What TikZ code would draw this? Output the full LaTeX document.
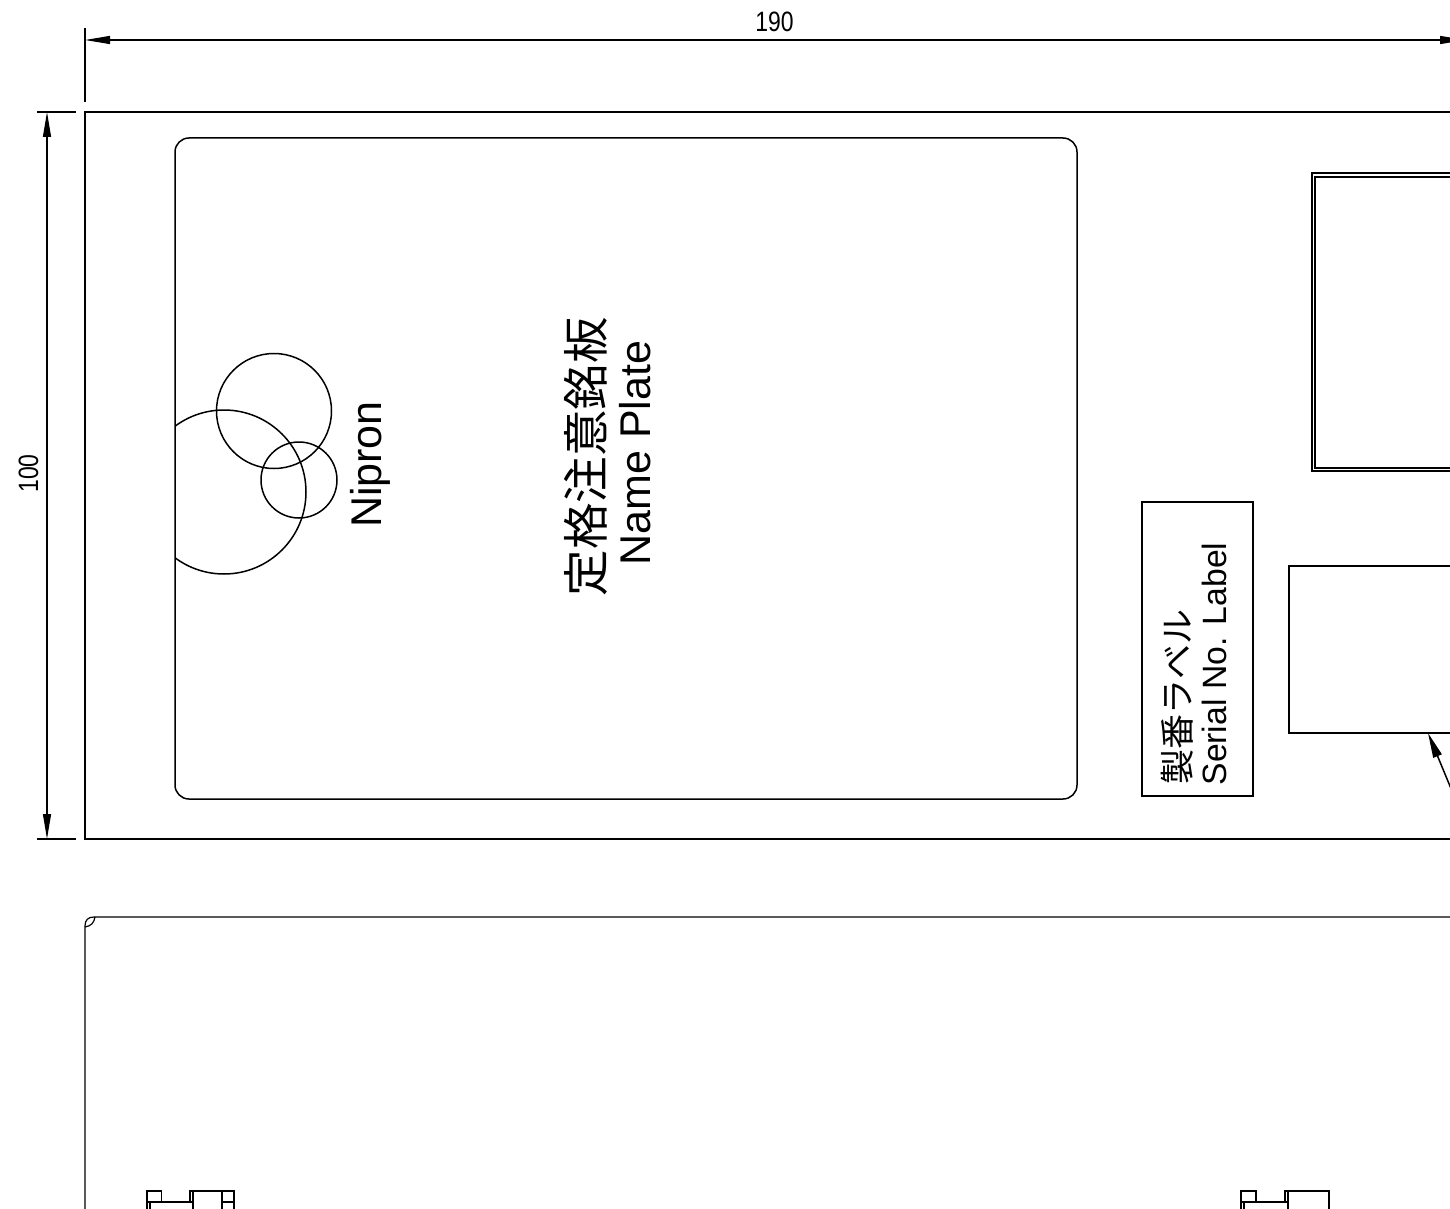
\documentclass[tikz,border=0pt]{standalone}
\usepackage{fontspec}
\usepackage{graphicx}
\usetikzlibrary{arrows.meta}
\setmainfont{Liberation Sans}
\newfontfamily\jpfont{Noto Sans CJK JP}
\tikzset{
  ln/.style={line width=1.2pt,line cap=butt,line join=miter},
  heavy/.style={line width=1.5pt,line cap=butt,line join=miter},
  dimline/.style={ln,{Triangle[length=25pt,width=8pt]}-{Triangle[length=25pt,width=8pt]}},
  leader/.style={heavy,-{Triangle[length=25pt,width=9pt]}},
  boxnode/.style={draw,ln,inner sep=0pt,outer sep=0pt},
  txt/.style={inner sep=0pt,outer sep=0pt,anchor=base,text=black},
  vtxt/.style={txt,rotate=90},
}
\newcommand{\fs}[1]{\fontsize{#1pt}{#1pt}\selectfont}
\begin{document}
\begin{tikzpicture}[x=1pt,y=-1pt]
\useasboundingbox (0,0) rectangle (1450,1209);
\clip (0,0) rectangle (1450,1209);
% dimension helpers
\coordinate (dimL) at (85,40);
\coordinate (dimR) at (1465,40);
\coordinate (dimT) at (47,112);
\coordinate (dimB) at (47,839);
\draw[ln] (85,28) -- (85,102);
\draw[ln] (37,112) -- (76,112);
\draw[ln] (37,839) -- (76,839);
\draw[dimline] (dimL) -- (dimR);
\draw[dimline] (dimT) -- (dimB);
\node[txt] (d190) at (774.5,32) {\fs{28}\scalebox{.82}[1]{190}};
\node[vtxt] (d100) at (38,473.5) {\fs{28}\scalebox{.82}[1]{100}};
% upper panel
\draw[ln] (1450,112) -- (85,112) -- (85,839) -- (1450,839);
\node[boxnode,heavy,rounded corners=14pt,minimum width=902pt,minimum height=661pt] (plate) at (626,468.5) {};
\begin{scope}
  \clip (175,300) rectangle (400,620);
  \draw[heavy] (224,492) circle[radius=82];
\end{scope}
\draw[heavy] (274,411) circle[radius=57.5];
\draw[heavy] (299,480) circle[radius=38];
\node[vtxt] (nipron) at (381.5,464.5) {\fs{43}Nipron};
\node[vtxt] (jpplate) at (603,456.5) {\fs{46.5}\jpfont 定格注意銘板};
\node[vtxt] (enplate) at (650,453) {\fs{43}Name Plate};
\node[boxnode,minimum width=111pt,minimum height=294pt] (serial) at (1197.5,649) {};
\node[vtxt] (jpserial) at (1190,697) {\fs{35}\jpfont 製番ラベル};
\node[vtxt] (enserial) at (1226,664) {\fs{33.7}Serial No. Label};
\draw[ln] (1450,173) -- (1312,173) -- (1312,471) -- (1450,471);
\draw[ln] (1450,177) -- (1315,177) -- (1315,468) -- (1450,468);
\draw[ln] (1450,566) -- (1289,566) -- (1289,733) -- (1450,733);
\coordinate (leadTip) at (1428,733);
\coordinate (leadFree) at (1452,791);
\draw[leader] (leadFree) -- (leadTip);
% lower panel
\draw[ln] (1450,917) -- (94,917) .. controls (88,917) and (85,920) .. (85,926) -- (85,1209);
\draw[ln] (95,917) .. controls (94,923) and (91,926) .. (85,927);
% left clip
\draw[ln] (150,1209) -- (150,1202);
\draw[ln] (147,1209) -- (147,1191) -- (161.5,1191) -- (161.5,1202);
\draw[ln] (147,1202) -- (161.5,1202);
\draw[line width=2.2pt] (161.5,1202) -- (193,1202);
\draw[ln] (193,1209) -- (193,1191);
\draw[ln] (190,1202) -- (190,1191) -- (234,1191) -- (234,1209);
\draw[ln] (222,1191) -- (222,1209);
\draw[ln] (222,1202) -- (234,1202);
% right clip
\draw[ln] (1244,1209) -- (1244,1202);
\draw[ln] (1241,1209) -- (1241,1191) -- (1256,1191) -- (1256,1202);
\draw[ln] (1241,1202) -- (1256,1202);
\draw[line width=2.2pt] (1256,1202) -- (1288,1202);
\draw[ln] (1288,1209) -- (1288,1191);
\draw[ln] (1285,1202) -- (1285,1191) -- (1329,1191) -- (1329,1209);
\end{tikzpicture}
\end{document}
